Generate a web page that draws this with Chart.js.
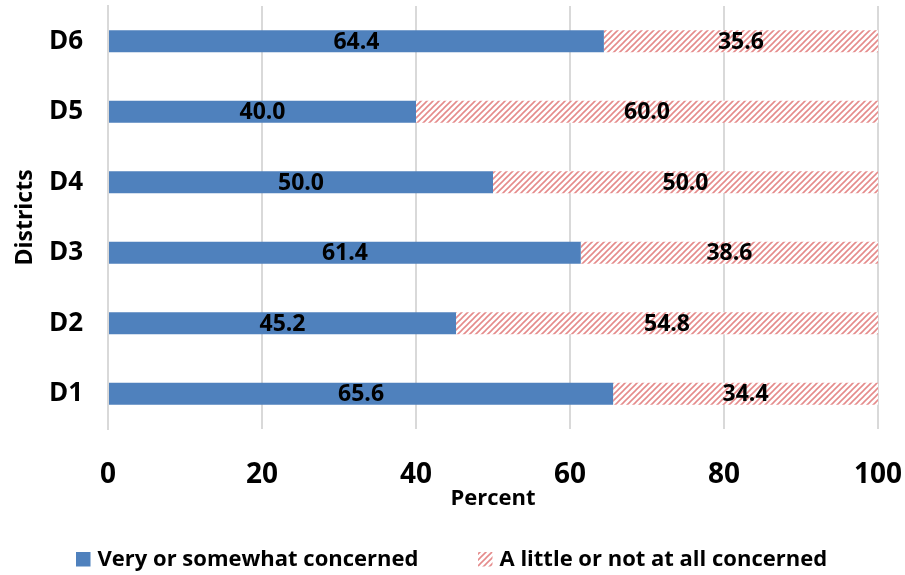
<!DOCTYPE html>
<html>
<head>
<meta charset="utf-8">
<script src="https://cdn.jsdelivr.net/npm/chart.js@4/dist/chart.umd.min.js"></script>
<style>
  html, body { margin: 0; padding: 0; background: #fff; }
  #wrap { width: 905px; height: 575px; position: relative; }
</style>
</head>
<body>
<div id="wrap"><canvas id="c" width="905" height="575"></canvas></div>
<script>
// Share of respondents by level of concern, per district
const districts = ['D1', 'D2', 'D3', 'D4', 'D5', 'D6'];
const concerned = [65.6, 45.2, 61.4, 50.0, 40.0, 64.4];
const notConcerned = [34.4, 54.8, 38.6, 50.0, 60.0, 35.6];
const xTicks = [0, 20, 40, 60, 80, 100];
const seriesNames = ['Very or somewhat concerned', 'A little or not at all concerned'];

const FONT = "'Open Sans', Lato, 'DejaVu Sans', sans-serif";

// Diagonal red hatch used for the second series
function makeHatch() {
  const s = 6;
  const p = document.createElement('canvas');
  p.width = s; p.height = s;
  const g = p.getContext('2d');
  g.fillStyle = '#ffffff';
  g.fillRect(0, 0, s, s);
  g.strokeStyle = 'rgba(222, 110, 110, 0.8)';
  g.lineWidth = 1.6;
  g.beginPath();
  g.moveTo(-1, s + 1); g.lineTo(s + 1, -1);
  g.moveTo(-1, 1); g.lineTo(1, -1);
  g.moveTo(s - 1, s + 1); g.lineTo(s + 1, s - 1);
  g.stroke();
  return document.getElementById('c').getContext('2d').createPattern(p, 'repeat');
}
const hatch = makeHatch();

// Writes each segment's value in the middle of its bar
const valueLabels = {
  id: 'valueLabels',
  afterDatasetsDraw(chart) {
    const ctx = chart.ctx;
    ctx.save();
    ctx.font = "bold 23px " + FONT;
    ctx.fillStyle = '#000';
    ctx.textAlign = 'center';
    ctx.textBaseline = 'middle';
    chart.data.datasets.forEach((ds, di) => {
      chart.getDatasetMeta(di).data.forEach((bar, i) => {
        const x = (bar.x + bar.base) / 2;
        ctx.fillText(ds.data[i].toFixed(1), x, bar.y + 1);
      });
    });
    ctx.restore();
  }
};

// Legend row along the bottom edge
const bottomLegend = {
  id: 'bottomLegend',
  afterDraw(chart) {
    const ctx = chart.ctx;
    const starts = [76, 478];
    const boxTop = 552, box = 14.5;
    ctx.save();
    ctx.font = "bold 22px " + FONT;
    ctx.textBaseline = 'middle';
    ctx.textAlign = 'left';
    chart.data.datasets.forEach((ds, i) => {
      const x = starts[i];
      ctx.fillStyle = ds.backgroundColor;
      ctx.fillRect(x, boxTop, box, box);
      ctx.fillStyle = '#000';
      ctx.fillText(ds.label, x + box + 7, boxTop + box / 2);
    });
    ctx.restore();
  }
};

new Chart(document.getElementById('c'), {
  type: 'bar',
  data: {
    labels: districts,
    datasets: [
      { label: seriesNames[0], data: concerned, backgroundColor: '#4f81bd', borderWidth: 0,
        barPercentage: 0.62, categoryPercentage: 0.5 },
      { label: seriesNames[1], data: notConcerned, backgroundColor: hatch, borderWidth: 0,
        barPercentage: 0.62, categoryPercentage: 0.5 }
    ]
  },
  options: {
    indexAxis: 'y',
    responsive: false,
    animation: false,
    devicePixelRatio: 1,
    layout: { padding: { top: 6, right: 27, left: 0, bottom: 0 } },
    scales: {
      x: {
        stacked: true,
        min: 0, max: 100,
        afterBuildTicks(scale) { scale.ticks = xTicks.map(v => ({ value: v })); },
        afterFit(scale) { scale.height = 146; scale.paddingLeft = 0; scale.paddingRight = 0; },
        grid: { color: '#d9d9d9', lineWidth: 2, drawTicks: false },
        border: { display: false },
        ticks: { padding: 29, color: '#000', font: { family: FONT, size: 28, weight: 'bold' } },
        title: { display: true, text: 'Percent', color: '#000', padding: { top: 0, bottom: 63 },
                 font: { family: FONT, size: 22, weight: 'bold' } }
      },
      y: {
        stacked: true,
        reverse: true,
        afterFit(scale) { scale.width = 108; scale.paddingTop = 0; scale.paddingBottom = 0; },
        grid: { display: false, drawTicks: false },
        border: { display: true, color: '#d9d9d9', width: 2 },
        ticks: { padding: 25, color: '#000', font: { family: FONT, size: 26, weight: 'bold' } },
        title: { display: true, text: 'Districts', color: '#000', padding: { top: 12, bottom: 0 },
                 font: { family: FONT, size: 23, weight: 'bold' } }
      }
    },
    plugins: {
      legend: { display: false },
      tooltip: { enabled: false }
    }
  },
  plugins: [valueLabels, bottomLegend]
});
</script>
</body>
</html>
